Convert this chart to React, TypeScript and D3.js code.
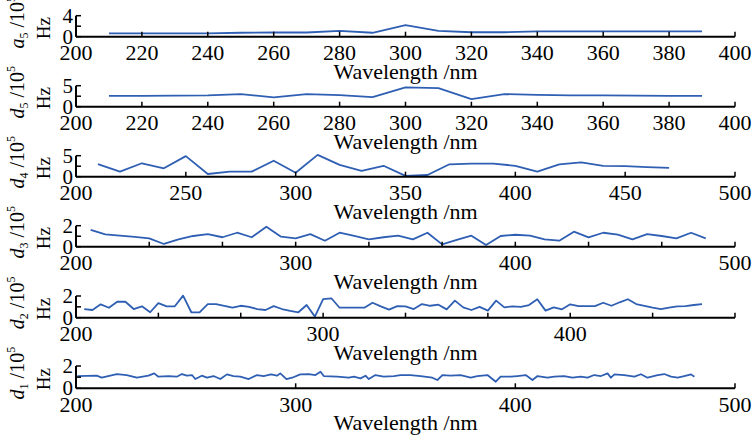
import React from "react";
import * as d3 from "d3";

// ---------- data ----------
const a5Wl = [210, 220, 230, 240, 250, 260, 270, 280, 290, 300, 310, 320, 330, 340, 350, 360, 370, 380, 390];
const a5Val = [0.65, 0.65, 0.65, 0.65, 0.75, 0.8, 0.8, 1.1, 0.75, 2.2, 1.1, 0.85, 0.85, 1.0, 1.0, 1.0, 1.0, 1.0, 1.0];

const d5Wl = [210, 220, 230, 240, 250, 260, 270, 280, 290, 300, 310, 320, 330, 340, 350, 360, 370, 380, 390];
const d5Val = [2.6, 2.6, 2.65, 2.7, 3.0, 2.2, 3.0, 2.75, 2.3, 4.6, 4.4, 1.8, 3.0, 2.8, 2.7, 2.7, 2.65, 2.6, 2.6];

const d4Wl = [210, 220, 230, 240, 250, 260, 270, 280, 290, 300, 310, 320, 330, 340, 350, 360, 370, 380, 390, 400, 410, 420, 430, 440, 450, 460, 470];
const d4Val = [3.0, 1.2, 3.2, 2.0, 4.9, 0.64, 1.2, 1.2, 3.8, 0.95, 5.2, 2.8, 1.4, 2.6, 0.2, 0.4, 2.95, 3.1, 3.1, 2.6, 1.2, 2.95, 3.4, 2.6, 2.5, 2.3, 2.1];

const d3Wl = [206.67, 213.33, 220, 226.67, 233.33, 240, 246.67, 253.33, 260, 266.67, 273.33, 280, 286.67, 293.33, 300, 306.67, 313.33, 320, 326.67, 333.33, 340, 346.67, 353.33, 360, 366.67, 373.33, 380, 386.67, 393.33, 400, 406.67, 413.33, 420, 426.67, 433.33, 440, 446.67, 453.33, 460, 466.67, 473.33, 480, 486.67];
const d3Val = [1.6, 1.18, 1.05, 0.93, 0.8, 0.26, 0.7, 1.02, 1.2, 0.9, 1.33, 0.9, 1.9, 0.95, 0.8, 1.2, 0.57, 1.33, 1.02, 0.7, 0.9, 1.05, 0.7, 1.33, 0.22, 0.64, 1.05, 0.16, 1.02, 1.14, 1.05, 0.7, 0.57, 1.43, 0.88, 1.33, 1.14, 0.7, 1.2, 1.02, 0.79, 1.33, 0.79];

const d2Wl = [203.33, 206.67, 210, 213.33, 216.67, 220, 223.33, 226.67, 230, 233.33, 236.67, 240, 243.33, 246.67, 250, 253.33, 256.67, 260, 263.33, 266.67, 270, 273.33, 276.67, 280, 283.33, 286.67, 290, 293.33, 296.67, 300, 303.33, 306.67, 310, 313.33, 316.67, 320, 323.33, 326.67, 330, 333.33, 336.67, 340, 343.33, 346.67, 350, 353.33, 356.67, 360, 363.33, 366.67, 370, 373.33, 376.67, 380, 383.33, 386.67, 390, 393.33, 396.67, 400, 403.33, 406.67, 410, 413.33, 416.67, 420, 423.33, 426.67, 430, 433.33, 436.67, 440, 443.33, 446.67, 450, 453.33];
const d2Val = [0.8, 0.71, 1.23, 0.92, 1.47, 1.47, 0.8, 1.05, 0.5, 1.35, 1.05, 1.05, 2.03, 0.5, 0.5, 1.26, 1.26, 1.1, 0.92, 1.1, 1.0, 0.8, 0.71, 1.07, 0.8, 0.62, 0.5, 1.17, 0.1, 1.72, 1.79, 0.92, 0.92, 0.92, 0.92, 1.38, 1.05, 0.74, 1.07, 1.05, 0.8, 1.26, 1.1, 1.2, 0.77, 1.57, 0.95, 0.71, 1.0, 0.65, 1.57, 0.95, 1.05, 1.0, 1.17, 1.7, 0.65, 0.95, 0.77, 1.23, 1.07, 1.07, 1.07, 1.38, 1.1, 1.42, 1.7, 1.26, 1.1, 0.92, 0.8, 0.92, 1.05, 1.07, 1.17, 1.26];

const d1Wl = [200.6, 209.4, 211.7, 218.6, 223.1, 227.7, 233.0, 235.6, 237.5, 242.1, 245.9, 248.2, 250.5, 252.8, 254.3, 257.3, 259.6, 262.6, 265.7, 268.7, 271.7, 274.8, 278.6, 282.4, 285.4, 288.8, 291.5, 293.0, 295.8, 298.4, 302.1, 305.9, 309.0, 311.3, 312.8, 318.9, 324.2, 326.5, 329.5, 331.8, 333.3, 336.3, 340.1, 344.7, 347.7, 352.3, 356.9, 362.2, 364.5, 366.8, 370.5, 375.1, 379.7, 382.7, 387.3, 391.1, 393.3, 397.9, 400.9, 404.7, 407.8, 410.1, 414.6, 417.7, 422.2, 426.0, 429.8, 432.9, 435.9, 439.0, 442.0, 443.5, 445.1, 449.6, 454.2, 457.2, 460.2, 464.8, 467.8, 470.9, 473.9, 476.9, 480.0, 481.5];
const d1Val = [1.1, 1.13, 0.95, 1.28, 1.19, 0.95, 1.13, 1.34, 1.04, 1.1, 1.04, 1.28, 1.13, 1.19, 0.83, 1.13, 0.95, 1.1, 0.83, 1.25, 1.1, 1.04, 0.83, 1.19, 1.1, 1.25, 1.13, 1.34, 0.83, 0.95, 1.25, 1.28, 1.19, 1.49, 1.1, 1.04, 0.95, 1.04, 0.89, 1.13, 0.83, 1.19, 1.04, 1.1, 1.19, 1.19, 1.1, 0.95, 0.74, 1.19, 1.13, 1.19, 0.95, 1.1, 1.19, 0.59, 1.04, 1.04, 1.1, 1.19, 0.74, 1.1, 0.95, 1.04, 1.1, 0.95, 1.04, 0.95, 1.19, 1.1, 1.34, 0.95, 1.25, 1.19, 1.04, 1.26, 0.95, 1.19, 1.28, 1.04, 0.95, 1.1, 1.25, 1.04];

const labelsSym = ["a", "d", "d", "d", "d", "d"];
const labelsSub = ["5", "5", "4", "3", "2", "1"];
const xLabel = "Wavelength /nm";

// ---------- layout ----------
const W = 753;
const H = 439;
const X0 = 76;
const X1 = 735;
const FONT = "'Liberation Serif', 'Times New Roman', serif";
const BLUE = "#2f5fb3";

type Panel = {
  wl: number[];
  val: number[];
  xDomain: [number, number];
  xTicks: number[];
  xLabels: number[];
  yMax: number;
  yTicks: number[];
  yLabels: number[];
  top: number;
  base: number;
};

const range = (a: number, b: number, step: number) => {
  const out: number[] = [];
  for (let v = a; v <= b + 1e-6; v += step) out.push(v);
  return out;
};

const panels: Panel[] = [
  { wl: a5Wl, val: a5Val, xDomain: [200, 400], xTicks: range(200, 400, 20), xLabels: range(200, 400, 20), yMax: 4, yTicks: [0, 2, 4], yLabels: [0, 4], top: 15.7, base: 36.7 },
  { wl: d5Wl, val: d5Val, xDomain: [200, 400], xTicks: range(200, 400, 20), xLabels: range(200, 400, 20), yMax: 5, yTicks: [0, 2.5, 5], yLabels: [0, 5], top: 85.7, base: 106.7 },
  { wl: d4Wl, val: d4Val, xDomain: [200, 500], xTicks: range(200, 500, 50), xLabels: range(200, 500, 50), yMax: 5, yTicks: [0, 2.5, 5], yLabels: [0, 5], top: 155.7, base: 176.7 },
  { wl: d3Wl, val: d3Val, xDomain: [200, 500], xTicks: range(200, 500, 100 / 3), xLabels: [200, 300, 400, 500], yMax: 2, yTicks: [0, 1, 2], yLabels: [0, 2], top: 225.7, base: 246.7 },
  { wl: d2Wl, val: d2Val, xDomain: [200, 466.67], xTicks: range(200, 466.67, 100 / 3), xLabels: [200, 300, 400], yMax: 2, yTicks: [0, 1, 2], yLabels: [0, 2], top: 296, base: 317.7 },
  { wl: d1Wl, val: d1Val, xDomain: [200, 500], xTicks: range(200, 500, 100), xLabels: [200, 300, 400, 500], yMax: 2, yTicks: [0, 1, 2], yLabels: [0, 2], top: 366, base: 388.3 },
];

function PanelView({ p, i }: { p: Panel; i: number }) {
  const x = d3.scaleLinear().domain(p.xDomain).range([X0, X1]);
  const y = d3.scaleLinear().domain([0, p.yMax]).range([p.base, p.top]);
  const line = d3
    .line<number>()
    .x((_, k) => x(p.wl[k]))
    .y((v) => y(v));
  const midY = (p.top + p.base) / 2;
  return (
    <g>
      <path d={line(p.val) || ""} fill="none" stroke={BLUE} strokeWidth={1.8} strokeLinejoin="round" />
      {/* axes */}
      <line x1={X0} x2={X1} y1={p.base} y2={p.base} stroke="#000" strokeWidth={2} />
      <line x1={X0} x2={X0} y1={p.top} y2={p.base} stroke="#000" strokeWidth={2} />
      {p.xTicks.map((t, k) => (
        <line key={"xt" + k} x1={x(t)} x2={x(t)} y1={p.base} y2={p.base - 5} stroke="#000" strokeWidth={1.5} />
      ))}
      {p.yTicks.map((t, k) => (
        <line key={"yt" + k} x1={X0} x2={X0 + 5} y1={y(t)} y2={y(t)} stroke="#000" strokeWidth={1.5} />
      ))}
      {p.xLabels.map((t, k) => (
        <text key={"xl" + k} x={x(t)} y={p.base + 23.5} textAnchor="middle" fontSize={22} fontFamily={FONT} fill="#000">
          {Math.round(t)}
        </text>
      ))}
      {p.yLabels.map((t, k) => (
        <text key={"yl" + k} x={X0 - 3} y={y(t) + 7} textAnchor="end" fontSize={21} fontFamily={FONT} fill="#000">
          {t}
        </text>
      ))}
      <text x={(X0 + X1) / 2} y={p.base + 42} textAnchor="middle" fontSize={22} fontFamily={FONT} fill="#000">
        {xLabel}
      </text>
      <g transform={`translate(24, ${midY - 4}) rotate(-90)`}>
        <text textAnchor="middle" fontSize={20} fontFamily={FONT} fill="#000">
          <tspan fontStyle="italic">{labelsSym[i]}</tspan>
          <tspan fontSize={12} dy={4}>{labelsSub[i]}</tspan>
          <tspan dy={-4}> /10</tspan>
          <tspan fontSize={12} dy={-9}>5</tspan>
        </text>
      </g>
      <g transform={`translate(50, ${midY + 2}) rotate(-90)`}>
        <text textAnchor="middle" fontSize={19} fontFamily={FONT} fill="#000">
          Hz
        </text>
      </g>
    </g>
  );
}

export default function App() {
  return (
    <svg width={W} height={H} style={{ position: "absolute", left: 0, top: 0, background: "#fff" }}>
      <rect width={W} height={H} fill="#fff" />
      {panels.map((p, i) => (
        <PanelView key={i} p={p} i={i} />
      ))}
    </svg>
  );
}
